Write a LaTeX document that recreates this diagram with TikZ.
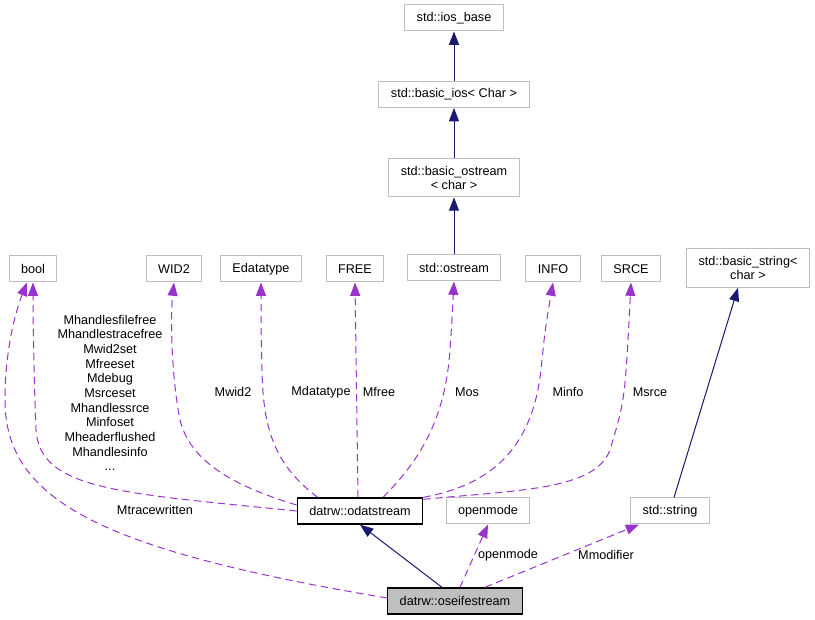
\documentclass[tikz,border=0pt]{standalone}
\usepackage{fontspec}
\setmainfont{Liberation Sans}
\usetikzlibrary{arrows.meta}
\definecolor{boxgray}{HTML}{BFBFBF}
\definecolor{usepurple}{HTML}{9A32CD}
\definecolor{inhnavy}{HTML}{191970}
\tikzset{
  cls/.style={draw=boxgray, fill=white, line width=0.75pt, inner xsep=9pt,
    inner ysep=0pt, minimum height=19.5pt, align=center,
    font=\fontsize{9.5}{10.5}\selectfont},
  clsbig/.style={cls, minimum height=29pt},
  clsmain/.style={cls, draw=black, line width=1pt},
  clscur/.style={clsmain, fill=boxgray},
  lab/.style={inner sep=1pt, align=center, font=\fontsize{9.5}{11}\selectfont},
  inherit/.style={draw=inhnavy, line width=0.75pt,
    -{Triangle[length=10pt, width=7.5pt]}},
  usage/.style={draw=usepurple, line width=0.75pt, dash pattern=on 5.5pt off 3.5pt,
    -{Triangle[length=10pt, width=7.5pt]}}
}
\begin{document}
\begin{tikzpicture}[x=0.75pt, y=-0.75pt]
  \useasboundingbox (0,0) rectangle (815,620);
  % The chain of stream classes on top
  \node [cls] (iosbase) at (454,18) {std::ios\_base};
  \node [cls] (basicios) at (454,94.5) {std::basic\_ios\textless{} Char \textgreater};
  \node [clsbig] (basicostream) at (454,177.5) {std::basic\_ostream\\\textless{} char \textgreater};
  \node [cls] (ostream) at (454,268) {std::ostream};
  \node [clsbig] (basicstring) at (748,268) {std::basic\_string\textless\\char \textgreater};
  % Row of member types
  \foreach \nm/\x/\txt in {
    bool/33/bool,
    wid2/174/WID2,
    edatatype/261/Edatatype,
    free/355/FREE,
    info/553/INFO,
    srce/631/SRCE} {
    \node [cls] (\nm) at (\x,269) {\txt};
  }
  % Classes at the bottom
  \node [clsmain] (odat) at (360,511) {datrw::odatstream};
  \node [cls] (openmode) at (488,511) {openmode};
  \node [cls] (string) at (670,511) {std::string};
  \node [clscur] (seife) at (455,601) {datrw::oseifestream};

  % Inheritance
  \draw [inherit] (basicios) -- (iosbase);
  \draw [inherit] (basicostream) -- (basicios);
  \draw [inherit] (ostream) -- (basicostream);
  \draw [inherit] (string.north) ++(4,0) -- ([xshift=-7.5pt]basicstring.south);
  \draw [inherit] (seife.north) ++(-13,0) -- (odat.south);

  % Members of odatstream
  \draw [usage] (odat.west) .. controls (120,493) and (40,490) .. (36,430)
    .. controls (34,380) and (33,320) .. (bool.south);
  \draw [usage] (odat.west) ++(0,-6) .. controls (230,485) and (190,460) .. (180,420)
    .. controls (172,380) and (170,320) .. (wid2.south);
  \draw [usage] (odat.north west) ++(21,0) .. controls (275,465) and (263,430) .. (262,370)
    .. controls (261,330) .. (edatatype.south);
  \draw [usage] (odat.north) ++(-2,0) -- (free.south);
  \draw [usage] (odat.north) ++(23,0) .. controls (420,460) and (445,420) .. (450,350)
    .. controls (452,320) .. (ostream.south);
  \draw [usage] (odat.north east) .. controls (490,485) and (532,450) .. (541,370)
    .. controls (545,330) .. (info.south);
  \draw [usage] (odat.north east) ++(0,2) .. controls (520,490) and (595,490) .. (610,450)
    .. controls (625,400) .. (srce.south);

  % Members of oseifestream
  \draw [usage] (seife.west) ++(0,-3) .. controls (100,550) and (5,500) .. (5,400)
    .. controls (5,340) and (20,300) .. ([xshift=-4.5pt]bool.south);
  \draw [usage] (seife.north) ++(5,0) -- (openmode.south);
  \draw [usage] (seife.north) ++(30,0) -- ([xshift=6.75pt]string.south west);

  % Edge labels
  \foreach \nm/\x/\y/\txt in {
    lbool/110/393/{Mhandlesfilefree\\Mhandlestracefree\\Mwid2set\\Mfreeset\\Mdebug\\Msrceset\\Mhandlessrce\\Minfoset\\Mheaderflushed\\Mhandlesinfo\\...},
    ltrace/155/510/Mtracewritten,
    lwid/233/392/Mwid2,
    ldatatype/321/392/Mdatatype,
    lfree/379/392/Mfree,
    los/467/392/Mos,
    linfo/568/392/Minfo,
    lsrce/650/392/Msrce,
    lopen/508/555/openmode,
    lmodifier/606/555/Mmodifier} {
    \node [lab] (\nm) at (\x,\y) {\txt};
  }
\end{tikzpicture}
\end{document}
